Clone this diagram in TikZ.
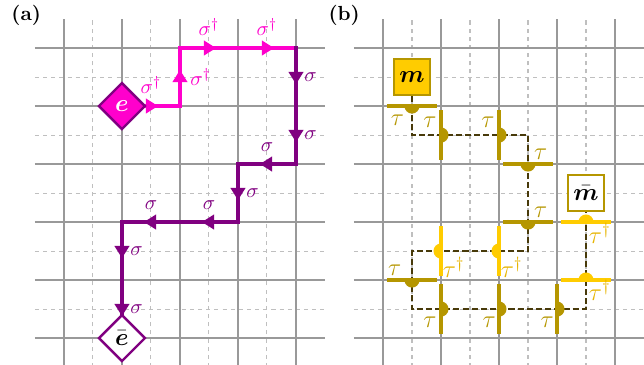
\documentclass[tikz,border=0pt]{standalone}
\usepackage{tikz,amsmath}
\usetikzlibrary{shapes,arrows.meta,calc,positioning,decorations.markings,backgrounds}

\definecolor{pinkm}{RGB}{255,0,204}
\definecolor{purp}{RGB}{128,0,128}
\definecolor{gold}{RGB}{255,204,0}
\definecolor{dgold}{RGB}{181,150,0}
\definecolor{mgold}{RGB}{230,180,0}
\definecolor{darklink}{RGB}{72,58,10}

\begin{document}
\begin{tikzpicture}[major/.style={gray!80,line width=0.7pt},
	minor/.style={gray!50,line width=0.5pt,dash pattern=on 2pt off 2pt},
	midarrows/.style={postaction={decorate},decoration={markings,mark=between positions 0.5cm and #1 step 1cm with {\arrow[xshift=3.5pt]{Triangle[length=6pt,width=7pt]}}}},
	sigd/.style={pinkm,line width=1.5pt,line cap=rect,midarrows=3.6cm},
	sig/.style={purp,line width=1.5pt,line cap=rect,midarrows=7.6cm},
	ediamond/.style={diamond,draw=purp,line width=1.2pt,inner sep=0pt,minimum size=0.81cm,font=\large},
	mbox/.style={rectangle,draw=dgold,line width=1.2pt,inner sep=0pt,minimum size=0.62cm,font=\large},
	link/.style={darklink,line width=1.2pt,dash pattern=on 3pt off 1.5pt},
	taubar/.style={line width=2pt},
	taulab/.style={font=\large,inner sep=1pt}]
	\useasboundingbox (-1.103,-0.448) rectangle (10,5.828);

	\begin{scope}[on background layer]
	\foreach \s in {0,5.5} {
		\foreach \x in {0.5,1.5,2.5,3.5}
			\draw[minor] (\s+\x,-0.5) -- (\s+\x,5.5);
		\foreach \y in {0.5,1.5,2.5,3.5,4.5}
			\draw[minor] (\s-0.5,\y) -- (\s+4.5,\y);
		\foreach \x in {0,...,4}
			\draw[major] (\s+\x,-0.5) -- (\s+\x,5.5);
		\foreach \y in {0,...,5}
			\draw[major] (\s-0.5,\y) -- (\s+4.5,\y);
	}
	\end{scope}

	% (a)
	\node[font=\bfseries] (la) at (-0.65,5.57) {(a)};
	\node[ediamond,fill=pinkm,text=white] (e) at (1,4) {$\boldsymbol{e}$};
	\node[ediamond,fill=white] (eb) at (1,0) {$\bar{\boldsymbol{e}}$};

	\begin{scope}[on background layer]
	\draw[sigd] (e.center) -- node[above=2pt] {$\sigma^\dagger$} ++(1,0)
		-- node[right=1pt] {$\sigma^\dagger$} ++(0,1)
		-- node[above=2pt] {$\sigma^\dagger$} ++(1,0)
		-- node[above=2pt] {$\sigma^\dagger$} ++(1,0) coordinate (t);
	\draw[sig] (t) -- node[right] {$\sigma$} ++(0,-1)
		-- node[right] {$\sigma$} ++(0,-1)
		-- node[above=2pt] {$\sigma$} ++(-1,0)
		-- node[right] {$\sigma$} ++(0,-1)
		-- node[above=2pt] {$\sigma$} ++(-1,0)
		-- node[above=2pt] {$\sigma$} ++(-1,0)
		-- node[right] {$\sigma$} ++(0,-1)
		-- node[right] {$\sigma$} (eb.center);
	\end{scope}

	% (b)
	\begin{scope}[xshift=5.5cm]
	\node[font=\bfseries] (lb) at (-0.67,5.57) {(b)};
	\node[mbox,fill=gold] (m) at (0.5,4.5) {$\boldsymbol{m}$};
	\node[mbox,fill=white] (mb) at (3.5,2.5) {$\bar{\boldsymbol{m}}$};
	\draw[link] (m) -- ++(0,-1) -- ++(2,0) -- ++(0,-2) -- ++(-2,0) -- ++(0,-1) -- ++(3,0) -- (mb);

	\foreach \x/\y/\a in {0.5/4/-90,1/3.5/0,2/3.5/0,2.5/3/-90,2.5/2/-90,0.5/1/-90,1/0.5/0,2/0.5/0,3/0.5/0} {
		\fill[dgold,shift={(\x,\y)},rotate=\a] (0,0.13) arc (90:-90:0.13) -- cycle;
		\draw[taubar,dgold,shift={(\x,\y)},rotate=\a] (0,-0.43) -- (0,0.43);
	}
	\foreach \x/\y/\a in {2/1.5/180,1/1.5/180,3.5/1/90,3.5/2/90} {
		\fill[gold,shift={(\x,\y)},rotate=\a] (0,0.13) arc (90:-90:0.13) -- cycle;
		\draw[taubar,gold,shift={(\x,\y)},rotate=\a] (0,-0.43) -- (0,0.43);
	}

	\foreach \x/\y [count=\i] in {0.25/3.75,0.81/3.72,1.81/3.72,2.72/3.17,2.72/2.17,0.2/1.17,0.81/0.28,1.83/0.28,2.83/0.28}
		\node[taulab,dgold] (tau\i) at (\x,\y) {$\tau$};
	\foreach \x/\y [count=\i] in {3.74/1.8,1.22/1.22,2.22/1.22,3.74/0.82}
		\node[taulab,mgold] (taud\i) at (\x,\y) {$\tau^\dagger$};
	\end{scope}
\end{tikzpicture}
\end{document}
